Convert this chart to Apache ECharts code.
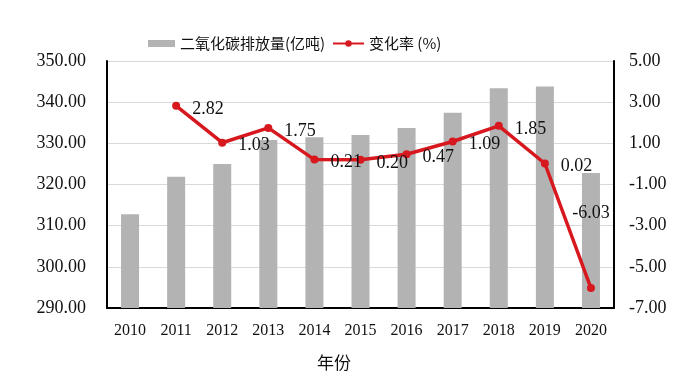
<!DOCTYPE html>
<html>
<head>
<meta charset="utf-8">
<script src="https://cdn.jsdelivr.net/npm/echarts@6/dist/echarts.min.js"></script>
<style>html,body{margin:0;padding:0;background:#fff;}#c{width:692px;height:378px;}</style>
</head>
<body>
<div id="c"></div>
<script>
var years = ['2010','2011','2012','2013','2014','2015','2016','2017','2018','2019','2020'];
var emissions = [312.8, 321.9, 325.0, 330.8, 331.5, 332.0, 333.7, 337.4, 343.4, 343.8, 322.8];
var changeRate = [null, 2.82, 1.03, 1.75, 0.21, 0.20, 0.47, 1.09, 1.85, 0.02, -6.03];
var leftTicks = [290, 350, 10];
var rightTicks = [-7, 5, 2];
var barName = '二氧化碳排放量(亿吨)';
var lineName = '变化率 (%)';
var xName = '年份';

var serif = "'Liberation Serif','Times New Roman','Noto Sans CJK SC',serif";
var cjk = "'Noto Sans CJK SC',sans-serif";

var lineData = changeRate.map(function (v, i) {
  if (i === changeRate.length - 1) {
    return { value: v, label: { position: 'top', distance: 62, offset: [0, 0] } };
  }
  return v;
});

var chart = echarts.init(document.getElementById('c'), null, { renderer: 'canvas' });
chart.setOption({
  animation: false,
  backgroundColor: '#fff',
  title: {
    text: xName, left: 312, top: 349,
    textStyle: { fontFamily: cjk, fontSize: 17, fontWeight: 'normal', color: '#111' }
  },
  legend: [{
    data: [barName], left: 143, top: 31, itemWidth: 27, itemHeight: 7, icon: 'rect',
    textStyle: { fontFamily: cjk, fontSize: 15, color: '#111' }, itemGap: 4
  }, {
    data: [lineName], left: 327, top: 31, itemWidth: 31, itemHeight: 8,
    textStyle: { fontFamily: cjk, fontSize: 15, color: '#111' }, itemGap: 2
  }],
  grid: { left: 107, right: 78, top: 61, bottom: 70 },
  xAxis: {
    type: 'category', data: years,
    axisLine: { onZero: false, lineStyle: { color: '#000', width: 2 } },
    axisTick: { inside: true, length: 4, lineStyle: { color: '#000', width: 1.5 } },
    axisLabel: { fontFamily: serif, fontSize: 16, color: '#111', margin: 15 }
  },
  yAxis: [{
    type: 'value', min: leftTicks[0], max: leftTicks[1], interval: leftTicks[2],
    axisLine: { show: true, lineStyle: { color: '#000', width: 2 } },
    axisTick: { show: false },
    splitLine: { lineStyle: { color: '#d9d9d9', width: 1 } },
    axisLabel: { fontFamily: serif, fontSize: 18, color: '#111', margin: 21,
      formatter: function (v) { return v.toFixed(2); } }
  }, {
    type: 'value', min: rightTicks[0], max: rightTicks[1], interval: rightTicks[2],
    axisLine: { show: true, lineStyle: { color: '#000', width: 2 } },
    axisTick: { show: false },
    splitLine: { show: false },
    axisLabel: { fontFamily: serif, fontSize: 18, color: '#111', margin: 15,
      formatter: function (v) { return v.toFixed(2); } }
  }],
  series: [{
    name: barName, type: 'bar', data: emissions, barWidth: 18,
    itemStyle: { color: '#b3b3b3' }
  }, {
    name: lineName, type: 'line', yAxisIndex: 1, data: lineData,
    symbol: 'circle', symbolSize: 8,
    lineStyle: { color: '#d7181f', width: 3.5 },
    itemStyle: { color: '#d7181f' },
    label: {
      show: true, position: 'right', distance: 12, offset: [0, 3],
      fontFamily: serif, fontSize: 18, color: '#111',
      formatter: function (p) { return p.value.toFixed(2); }
    }
  }]
});
</script>
</body>
</html>
